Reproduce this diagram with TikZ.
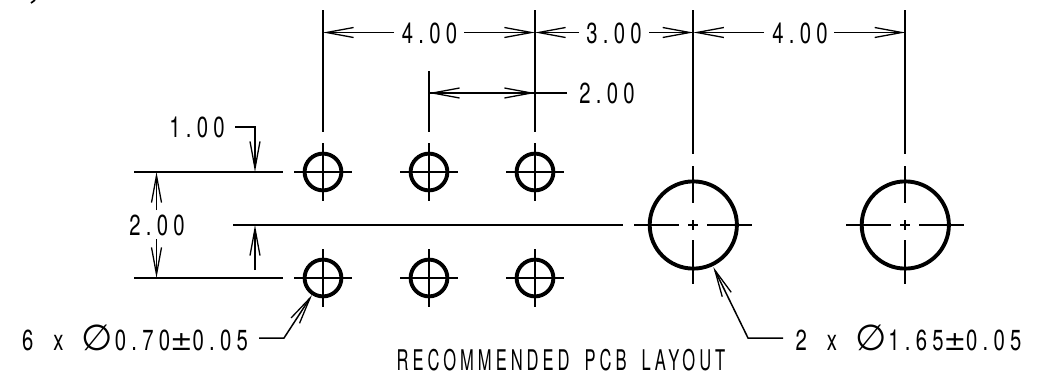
\documentclass[tikz,border=0pt]{standalone}
\usepackage{fontspec}
\setmainfont[FakeStretch=0.70,LetterSpace=18]{TeX Gyre Heros}
\newfontfamily\titlefont[FakeStretch=0.58,LetterSpace=14]{TeX Gyre Heros}
\newfontfamily\symfont{DejaVu Sans}
\usetikzlibrary{arrows.meta}
\tikzset{
 x=1pt,y=-1pt,
 dim/.style={line width=1.5pt,line cap=butt},
 arr/.style={dim,-{Straight Barb[length=27pt,width=10pt,line width=1.3pt]}},
 center/.style={line width=1.8pt},
 hole/.style={line width=3.9pt},
 lbl/.style={inner sep=0pt,font=\fontsize{29pt}{29pt}\selectfont}
}
\newcommand{\dia}{\hspace{2pt}{\symfont\fontsize{36pt}{29pt}\selectfont\char"2205}\hspace{2pt}}
\newcommand{\plm}{{\symfont\fontsize{27pt}{29pt}\selectfont ±}}
\newcommand{\smallhole}[3]{%
 \coordinate (#1) at (#2,#3);
 \draw[center] ([xshift=-29pt]#1) -- ([xshift=29pt]#1);
 \draw[center] ([yshift=29pt]#1) -- ([yshift=-29pt]#1);
 \draw[hole] (#1) circle (18.4pt);}
\newcommand{\bighole}[3]{%
 \coordinate (#1) at (#2,#3);
 \draw[center] (#2-59,#3) -- (#2-14,#3) (#2+14,#3) -- (#2+59,#3) (#2-5,#3) -- (#2+5,#3);
 \draw[center] (#2,#3-59) -- (#2,#3-22) (#2,#3+15) -- (#2,#3+59) (#2,#3-5) -- (#2,#3+5);
 \draw[hole] (#1) circle (43.6pt);}
\begin{document}
\begin{tikzpicture}
\useasboundingbox (0,0) rectangle (1039,375);
\fill[white] (0,0) rectangle (1039,375);
% holes
\smallhole{a1}{323}{172}\smallhole{a2}{429}{172}\smallhole{a3}{535}{172}
\smallhole{b1}{323}{278}\smallhole{b2}{429}{278}\smallhole{b3}{535}{278}
\bighole{c1}{693.3}{225}\bighole{c2}{905.3}{225}
% extension lines
\coordinate (e1t) at (323,10); \coordinate (e1b) at (323,132);
\coordinate (e2t) at (429,71); \coordinate (e2b) at (429,132);
\coordinate (e3t) at (535,10); \coordinate (e3b) at (535,132);
\coordinate (e4t) at (693.3,10); \coordinate (e4b) at (693.3,154);
\coordinate (e5t) at (905.3,10); \coordinate (e5b) at (905.3,154);
\draw[line width=1.7pt] (e1t)--(e1b) (e2t)--(e2b) (e3t)--(e3b) (e4t)--(e4b) (e5t)--(e5b);
% horizontal datum lines
\coordinate (h1l) at (134,172); \coordinate (h1r) at (283,172);
\coordinate (h2l) at (134,278); \coordinate (h2r) at (283,278);
\coordinate (h3l) at (233,225); \coordinate (h3r) at (623,225);
\draw[line width=1.9pt] (h1l)--(h1r) (h2l)--(h2r) (h3l)--(h3r);
% labels
\node[lbl] (t1) at (429.5,33.5) {4.00};
\node[lbl] (t2) at (614,33.5) {3.00};
\node[lbl] (t3) at (800,33.5) {4.00};
\node[lbl] (t4) at (607,93.5) {2.00};
\node[lbl] (t5) at (197,127) {1.00};
\node[lbl] (t6) at (157,225) {2.00};
\node[lbl] (t7) at (135,338) {6\hspace{20pt}x\hspace{16pt}\dia0.70\plm0.05};
\node[lbl] (t8) at (908.5,338) {2\hspace{20pt}x\hspace{16pt}\dia1.65\plm0.05};
\node[lbl,font=\titlefont\fontsize{28.5pt}{28.5pt}\selectfont] (t9) at (561,360) {RECOMMENDED\hspace{15pt}PCB\hspace{15pt}LAYOUT};
% top dimensions
\coordinate (d1) at (323,32.5); \coordinate (d2) at (535,32.5);
\coordinate (d3) at (693.3,32.5); \coordinate (d4) at (905.3,32.5);
\coordinate (d5) at (429,93); \coordinate (d6) at (535,93);
\draw[arr] (394,32.5) -- (d1);
\draw[arr] (464,32.5) -- (d2);
\draw[arr] (579,32.5) -- (d2);
\draw[arr] (649,32.5) -- (d3);
\draw[arr] (764,32.5) -- (d3);
\draw[arr] (834,32.5) -- (d4);
\draw[arr] (567,93) -- (d5);
\draw[arr] (429,93) -- (d6);
% left dimensions
\coordinate (v1) at (156.5,172); \coordinate (v2) at (156.5,278);
\coordinate (v3) at (255,172); \coordinate (v4) at (255,225);
\draw[arr] (156.5,210) -- (v1);
\draw[arr] (156.5,239) -- (v2);
\draw[arr] (235,127) -- (255,127) -- (v3);
\draw[arr] (255,270) -- (v4);
% leaders
\coordinate (l1) at (312,295); \coordinate (l2) at (713.3,267);
\draw[arr] (259,338) -- (284,338) -- (l1);
\draw[arr] (783,338) -- (748,338) -- (l2);
% cropped stroke at the top left
\draw[line width=1.7pt] (35,0) -- (31,3);
\end{tikzpicture}
\end{document}
